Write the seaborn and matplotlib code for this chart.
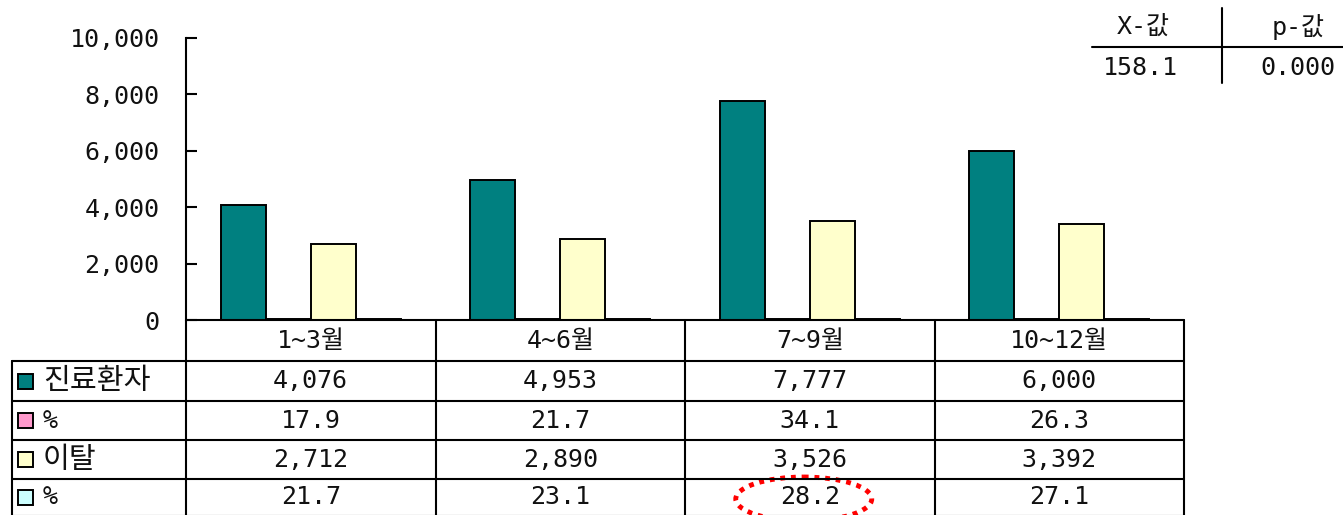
import matplotlib
matplotlib.use("Agg")
import matplotlib.pyplot as plt
import seaborn as sns
import pandas as pd
from matplotlib.patches import Ellipse

# ---- data ----
categories = ["1~3월", "4~6월", "7~9월", "10~12월"]
series_keys = ["s1", "s2", "s3", "s4"]
series_labels = ["진료환자", "%", "이탈", "%"]
patients = [4076, 4953, 7777, 6000]
patients_pct = [17.9, 21.7, 34.1, 26.3]
dropout = [2712, 2890, 3526, 3392]
dropout_pct = [21.7, 23.1, 28.2, 27.1]
series_colors = ["#008080", "#FF99CC", "#FFFFCC", "#CCFFFF"]
y_ticks = [0, 2000, 4000, 6000, 8000, 10000]
stat_headers = ["Χ-값", "p-값"]
stat_values = ["158.1", "0.000"]

series_values = [patients, patients_pct, dropout, dropout_pct]
series_fmt = ["{:,.0f}", "{:.1f}", "{:,.0f}", "{:.1f}"]

rows = []
for key, vals in zip(series_keys, series_values):
    for c, v in zip(categories, vals):
        rows.append({"cat": c, "series": key, "value": v})
df = pd.DataFrame(rows)

sns.set_theme(style="white")
plt.rcParams["font.family"] = ["DejaVu Sans Mono", "Noto Sans CJK KR"]
plt.rcParams["text.color"] = "#111111"

W, H = 1343, 515
fig = plt.figure(figsize=(W / 100, H / 100), dpi=100)
fig.patch.set_facecolor("white")

# pixel layout
ax_left, ax_right, ax_top, ax_bottom = 186, 1184, 38, 320
ax = fig.add_axes([ax_left / W, 1 - ax_bottom / H,
                   (ax_right - ax_left) / W, (ax_bottom - ax_top) / H])

sns.barplot(data=df, x="cat", y="value", hue="series", order=categories,
            hue_order=series_keys, palette=dict(zip(series_keys, series_colors)),
            width=0.72, gap=0, edgecolor="black", linewidth=1.4,
            legend=False, ax=ax, saturation=1)

fs = 18
ax.set_xlim(-0.5, len(categories) - 0.5)
ax.set_ylim(0, 10000)
ax.set_yticks(y_ticks)
ax.set_yticklabels([f"{t:,}" for t in y_ticks], fontsize=fs)
ax.tick_params(axis="y", direction="in", length=8, width=1.5, pad=19, left=True,
               colors="black", labelcolor="#111111")
ax.tick_params(axis="x", bottom=False, labelbottom=False)
ax.set_xlabel("")
ax.set_ylabel("")
for s in ["top", "right", "bottom"]:
    ax.spines[s].set_visible(False)
ax.spines["left"].set_color("black")
ax.spines["left"].set_linewidth(1.5)
ax.set_facecolor("none")

# overlay in pixel coordinates
ov = fig.add_axes([0, 0, 1, 1])
ov.set_xlim(0, W)
ov.set_ylim(H, 0)
ov.axis("off")
ov.patch.set_alpha(0)

lw = 1.5
col_edges = [ax_left + (ax_right - ax_left) * i / len(categories) for i in range(len(categories) + 1)]
row_edges = [320, 361, 401, 440, 479, 516]
tbl_left = 12

# horizontal lines
ov.plot([ax_left, ax_right], [row_edges[0], row_edges[0]], color="black", lw=lw)
for y in row_edges[1:]:
    ov.plot([tbl_left, ax_right], [y, y], color="black", lw=lw)
# vertical lines
for x in col_edges:
    ov.plot([x, x], [row_edges[0], row_edges[-1]], color="black", lw=lw)
ov.plot([tbl_left, tbl_left], [row_edges[1], row_edges[-1]], color="black", lw=lw)

# header
for i, c in enumerate(categories):
    xc = (col_edges[i] + col_edges[i + 1]) / 2
    yc = (row_edges[0] + row_edges[1]) / 2
    ov.text(xc, yc, c, ha="center", va="center", fontsize=fs)

# rows
for r, (lab, vals, fmt, colr) in enumerate(zip(series_labels, series_values, series_fmt, series_colors)):
    yc = (row_edges[r + 1] + row_edges[r + 2]) / 2
    ov.add_patch(plt.Rectangle((18, yc - 7.5), 15, 15, facecolor=colr, edgecolor="black", lw=1.4))
    ov.text(43, yc, lab, ha="left", va="center", fontsize=21 if lab != "%" else fs)
    for i, v in enumerate(vals):
        xc = (col_edges[i] + col_edges[i + 1]) / 2
        ov.text(xc, yc, fmt.format(v), ha="center", va="center", fontsize=fs)

# highlight ellipse around 7~9월 dropout %
hx = (col_edges[2] + col_edges[3]) / 2 - 6
ov.add_patch(Ellipse((hx, 499), 136, 44, fill=False, edgecolor="red",
                     lw=3.5, linestyle=(0, (1, 1.2))))

# stats table (top right)
ov.plot([1092, 1343], [47, 47], color="black", lw=lw)
ov.plot([1222, 1222], [8, 83], color="black", lw=lw)
ov.text(1143, 27, stat_headers[0], ha="center", va="center", fontsize=fs)
ov.text(1298, 27, stat_headers[1], ha="center", va="center", fontsize=fs)
ov.text(1140, 68, stat_values[0], ha="center", va="center", fontsize=fs)
ov.text(1298, 68, stat_values[1], ha="center", va="center", fontsize=fs)

fig.savefig("out.png", dpi=100, facecolor="white")
